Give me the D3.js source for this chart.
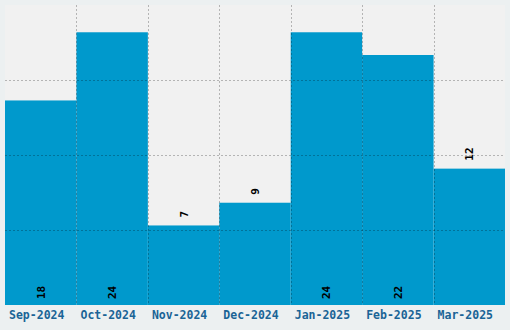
<!DOCTYPE html>
<html>
<head>
<meta charset="utf-8">
<script src="https://cdn.jsdelivr.net/npm/d3@7"></script>
<style>
  html, body { margin: 0; padding: 0; background: #ecf0f1; }
  svg { display: block; }
</style>
</head>
<body>
<svg id="chart"></svg>
<script>
// chart data
var months = ["Sep-2024", "Oct-2024", "Nov-2024", "Dec-2024", "Jan-2025", "Feb-2025", "Mar-2025"];
var counts = [18, 24, 7, 9, 24, 22, 12];

var width = 510, height = 330;
var margin = {top: 5, right: 5, bottom: 25, left: 5};
var innerW = width - margin.left - margin.right;
var innerH = height - margin.top - margin.bottom;

var svg = d3.select("#chart")
    .attr("width", width)
    .attr("height", height);

var g = svg.append("g")
    .attr("transform", "translate(" + margin.left + "," + margin.top + ")");

//scales
var x = d3.scaleBand()
    .domain(months)
    .range([0, innerW])
    .padding(0);

var maxVal = d3.max(counts) * 1.1;
var y = d3.scaleLinear()
    .domain([0, maxVal])
    .range([innerH, 0]);

//plot background
g.append("rect")
    .attr("width", innerW)
    .attr("height", innerH)
    .attr("fill", "#f1f1f1");

//bars
g.selectAll(".bar")
    .data(counts)
    .enter().append("rect")
        .attr("class", "bar")
        .attr("x", function(d, i) { return x(months[i]); })
        .attr("width", x.bandwidth())
        .attr("y", function(d) { return y(d); })
        .attr("height", function(d) { return innerH - y(d); })
        .attr("fill", "#0099cc");

//grid lines on top of the bars
var gridVals = [1, 2, 3].map(function(k) { return maxVal * k / 4; });
g.selectAll(".hgrid")
    .data(gridVals)
    .enter().append("line")
        .attr("x1", 0).attr("x2", innerW)
        .attr("y1", function(d) { return Math.round(y(d)) + 0.5; })
        .attr("y2", function(d) { return Math.round(y(d)) + 0.5; })
        .attr("stroke", "rgba(0,0,0,0.25)")
        .attr("stroke-dasharray", "2,2");

g.selectAll(".vgrid")
    .data(months.slice(1))
    .enter().append("line")
        .attr("x1", function(d) { return Math.round(x(d)) + 0.5; })
        .attr("x2", function(d) { return Math.round(x(d)) + 0.5; })
        .attr("y1", 0).attr("y2", innerH)
        .attr("stroke", "rgba(0,0,0,0.25)")
        .attr("stroke-dasharray", "2,2");

//value labels, inside at the bottom for tall bars, above the bar for short ones
g.selectAll(".val")
    .data(counts)
    .enter().append("text")
        .attr("class", "val")
        .attr("transform", function(d, i) {
            var cx = x(months[i]) + x.bandwidth() / 2 + 4;
            var cy = d > d3.max(counts) / 2 ? innerH - 6 : y(d) - 8;
            return "translate(" + cx + "," + cy + ") rotate(-90)";
        })
        .style("font-family", "'DejaVu Sans Mono', monospace")
        .style("font-weight", "bold")
        .style("font-size", "11px")
        .attr("fill", "#000")
        .text(function(d) { return d; });

//x axis labels
var xAxis = g.append("g")
    .attr("transform", "translate(0," + innerH + ")")
    .call(d3.axisBottom(x).tickSize(0).tickPadding(0));
xAxis.select(".domain").remove();
xAxis.selectAll("text")
    .attr("dy", null)
    .attr("x", -4)
    .attr("y", 14)
    .style("font-family", "'DejaVu Sans Mono', monospace")
    .style("font-weight", "bold")
    .style("font-size", "11.5px")
    .attr("fill", "#1a6496");
</script>
</body>
</html>
